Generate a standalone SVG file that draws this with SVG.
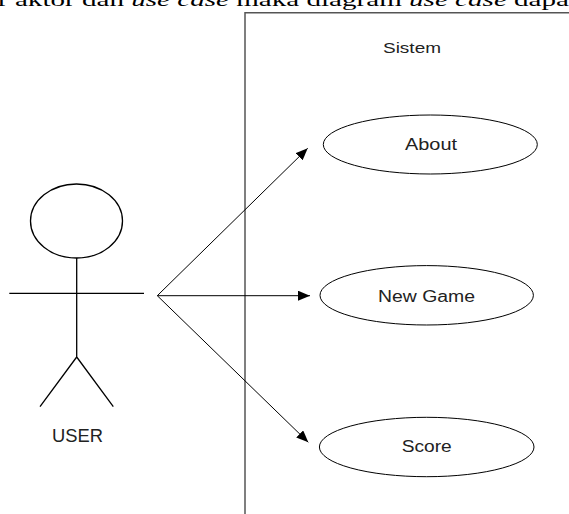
<svg xmlns="http://www.w3.org/2000/svg" width="569" height="514" viewBox="0 0 569 514">
<style>
.bd{fill:none;stroke:#555;stroke-width:1.5}
.act{fill:none;stroke:#000;stroke-width:1.3}
.uc{fill:#fff;stroke:#000;stroke-width:1}
.cn{stroke:#000;stroke-width:1;fill:none;marker-end:url(#ah)}
.lb{font-family:"Liberation Sans",Arial,sans-serif;fill:#222;text-anchor:middle}
.hd{font-family:"Liberation Serif","Times New Roman",serif;font-size:19px;fill:#000}
</style>
<defs>
<marker id="ah" viewBox="0 0 12 10" refX="12" refY="5" markerWidth="12" markerHeight="10" markerUnits="userSpaceOnUse" orient="auto">
<path d="M0,0 L12,5 L0,10 Z" fill="#000"/>
</marker>
</defs>
<text class="hd" x="-2" y="6" textLength="571" lengthAdjust="spacingAndGlyphs">r aktor dan <tspan font-style="italic">use case</tspan> maka diagram <tspan font-style="italic">use case</tspan> dapa</text>
<g id="system">
<path class="bd" d="M569,12.7 H245 V514"/>
<text class="lb" x="412" y="53" font-size="15" textLength="58" lengthAdjust="spacingAndGlyphs">Sistem</text>
</g>
<g id="user">
<ellipse class="act" cx="76.5" cy="221" rx="46" ry="37"/>
<path class="act" d="M76.7,258 V357 M9.3,293.3 H144 M76.7,357 L40,406.7 M76.7,357 L113.3,406.7"/>
<text class="lb" x="77.5" y="441.7" font-size="18" textLength="51" lengthAdjust="spacingAndGlyphs">USER</text>
</g>
<g id="about">
<ellipse class="uc" cx="430.3" cy="144.5" rx="107" ry="29.5"/>
<text class="lb" x="431" y="150" font-size="16" textLength="52" lengthAdjust="spacingAndGlyphs">About</text>
</g>
<g id="newgame">
<ellipse class="uc" cx="426.7" cy="295.3" rx="106.7" ry="29.7"/>
<text class="lb" x="426.5" y="301.5" font-size="16" textLength="97" lengthAdjust="spacingAndGlyphs">New Game</text>
</g>
<g id="score">
<ellipse class="uc" cx="426.7" cy="447" rx="107.3" ry="29.7"/>
<text class="lb" x="426.7" y="452" font-size="16" textLength="50" lengthAdjust="spacingAndGlyphs">Score</text>
</g>
<g id="connectors">
<line class="cn" x1="157.3" y1="295.7" x2="307.7" y2="148.3"/>
<line class="cn" x1="157.3" y1="295.7" x2="310" y2="295.7"/>
<line class="cn" x1="157.3" y1="295.7" x2="308.3" y2="442.3"/>
</g>
</svg>
